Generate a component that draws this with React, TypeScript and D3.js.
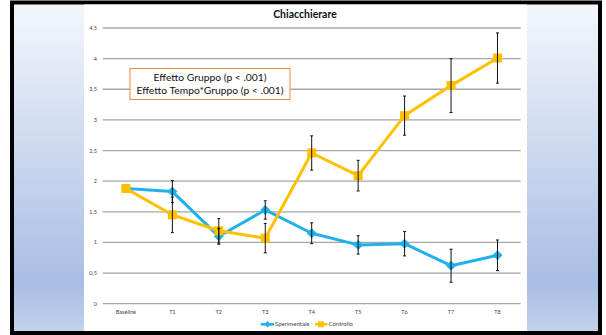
import React from "react";
import * as d3 from "d3";

const categories = ["Baseline", "T1", "T2", "T3", "T4", "T5", "T6", "T7", "T8"];
const sperimentale = [1.88, 1.83, 1.1, 1.53, 1.15, 0.96, 0.98, 0.62, 0.79];
const sperimentaleErr = [0.06, 0.18, 0.13, 0.15, 0.17, 0.15, 0.2, 0.27, 0.25];
const controllo = [1.88, 1.45, 1.19, 1.07, 2.46, 2.09, 3.07, 3.56, 4.01];
const controlloErr = [0.05, 0.29, 0.2, 0.24, 0.28, 0.25, 0.32, 0.44, 0.41];
const yTicks = [0, 0.5, 1, 1.5, 2, 2.5, 3, 3.5, 4, 4.5];
const seriesNames = ["Sperimentale", "Controllo"];
const annotation = ["Effetto Gruppo (p < .001)", "Effetto Tempo*Gruppo (p < .001)"];

const BLUE = "#1fb1ea";
const ORANGE = "#ffc000";
const FONT = "Lato, 'Open Sans', sans-serif";

export default function App() {
  const W = 606, H = 335;
  const x = d3.scaleBand<string>().domain(categories).range([102.7, 520.7]);
  const y = d3.scaleLinear().domain([0, 4.5]).range([303.7, 28]);
  const cx = (c: string) => (x(c) as number) + x.bandwidth() / 2;
  const line = d3.line<number>().x((_, i) => cx(categories[i])).y((d) => y(d));

  const diamond = (px: number, py: number, r: number) =>
    `M${px},${py - r}L${px + r},${py}L${px},${py + r}L${px - r},${py}Z`;

  const errBar = (v: number, e: number, i: number, key: string) => {
    const px = cx(categories[i]);
    const y1 = y(v + e);
    const y2 = y(v - e);
    return (
      <g key={key + i} stroke="#111" strokeWidth={1}>
        <line x1={px} x2={px} y1={y1} y2={y2} />
        <line x1={px - 1.5} x2={px + 1.5} y1={y1} y2={y1} />
        <line x1={px - 1.5} x2={px + 1.5} y1={y2} y2={y2} />
      </g>
    );
  };

  return (
    <svg width={W} height={H} style={{ position: "absolute", left: 0, top: 0 }}>
      <defs>
        <linearGradient id="side" x1="0" y1="0" x2="0" y2="1">
          <stop offset="0%" stopColor="#f4f7fc" />
          <stop offset="45%" stopColor="#ccd8ef" />
          <stop offset="85%" stopColor="#a9bee3" />
          <stop offset="100%" stopColor="#c4d2ec" />
        </linearGradient>
      </defs>
      <rect x={0} y={0} width={W} height={H} fill="#fff" />
      <rect x={12} y={2.5} width={588} height={330.5} fill="url(#side)" stroke="#000" strokeWidth={4} />
      <rect x={84} y={4.5} width={443} height={326.5} fill="#fff" />

      <text x={305} y={18} textAnchor="middle" fontFamily={FONT} fontWeight="bold" fontSize={10.5} fill="#111">
        Chiacchierare
      </text>

      {yTicks.map((t) => (
        <g key={t}>
          <line x1={102.7} x2={520.7} y1={y(t)} y2={y(t)} stroke="#a6a6a6" strokeWidth={1.3} />
          <text x={97} y={y(t) + 2} textAnchor="end" fontFamily={FONT} fontSize={5.5} fill="#444">
            {String(t).replace(".", ",")}
          </text>
        </g>
      ))}

      {categories.map((c) => (
        <text key={c} x={cx(c)} y={314} textAnchor="middle" fontFamily={FONT} fontSize={5.5} fill="#444">
          {c}
        </text>
      ))}

      {/* baseline error bars sit under the markers */}
      {errBar(sperimentale[0], sperimentaleErr[0], 0, "b1")}
      {errBar(controllo[0], controlloErr[0], 0, "b2")}

      <path d={line(sperimentale) || ""} fill="none" stroke={BLUE} strokeWidth={3} strokeLinejoin="round" />
      {sperimentale.map((v, i) => (
        <path key={"d" + i} d={diamond(cx(categories[i]), y(v), 5)} fill={BLUE} />
      ))}
      <path d={line(controllo) || ""} fill="none" stroke={ORANGE} strokeWidth={3} strokeLinejoin="round" />
      {controllo.map((v, i) => (
        <rect key={"s" + i} x={cx(categories[i]) - 4.5} y={y(v) - 4.5} width={9} height={9} fill={ORANGE} />
      ))}

      {sperimentale.map((v, i) => (i > 0 ? errBar(v, sperimentaleErr[i], i, "e1") : null))}
      {controllo.map((v, i) => (i > 0 ? errBar(v, controlloErr[i], i, "e2") : null))}

      <rect x={130} y={68.5} width={160} height={31} fill="#fff" stroke="#f0883a" strokeWidth={1} />
      <text x={210} y={80.5} textAnchor="middle" fontFamily={FONT} fontSize={10.3} fill="#111">
        {annotation[0]}
      </text>
      <text x={210} y={93.5} textAnchor="middle" fontFamily={FONT} fontSize={10.3} fill="#111">
        {annotation[1]}
      </text>

      {/* Legend */}
      <line x1={260.7} x2={274} y1={324.3} y2={324.3} stroke={BLUE} strokeWidth={2.5} />
      <path d={diamond(267.5, 324.3, 3.2)} fill={BLUE} />
      <text x={275} y={326.3} fontFamily={FONT} fontSize={6} fill="#444">
        {seriesNames[0]}
      </text>
      <line x1={315} x2={327.5} y1={324.3} y2={324.3} stroke={ORANGE} strokeWidth={2.5} />
      <rect x={318} y={321.3} width={6} height={6} fill={ORANGE} />
      <text x={328.5} y={326.3} fontFamily={FONT} fontSize={6} fill="#444">
        {seriesNames[1]}
      </text>
    </svg>
  );
}
